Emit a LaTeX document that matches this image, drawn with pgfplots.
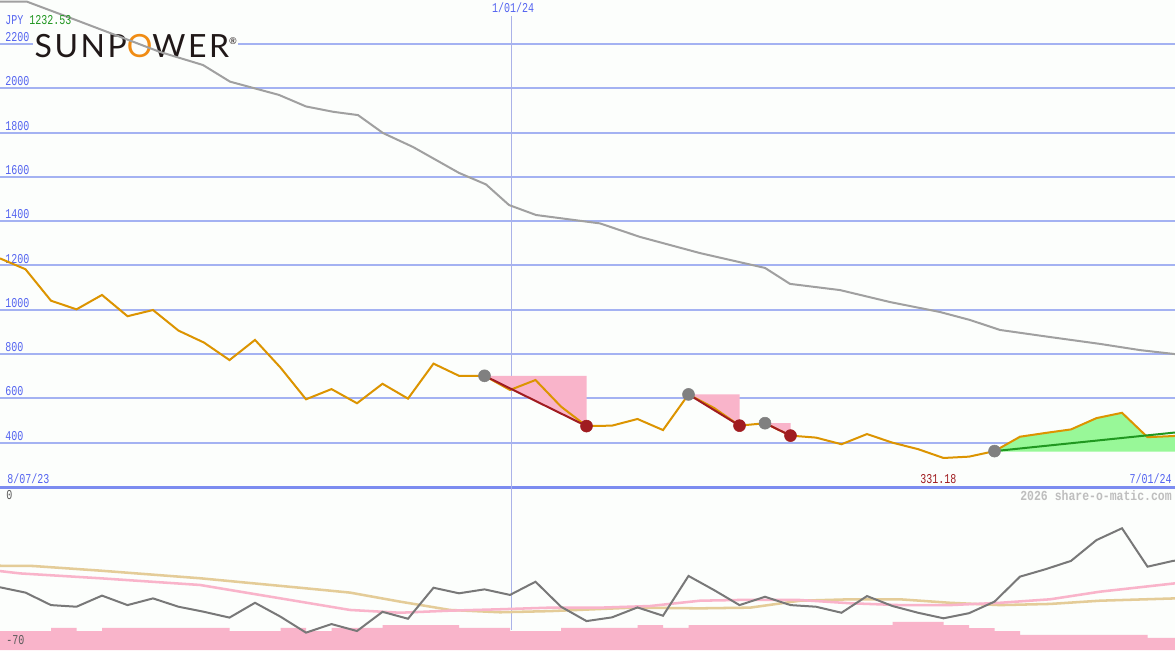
\documentclass[border=0pt]{standalone}
\usepackage{fontspec}
\setmainfont{Liberation Sans}
\setmonofont{Liberation Mono}
\newfontfamily\logofont[LetterSpace=8]{Lato}
\usepackage{graphicx}
\usepackage{pgfplots}
\pgfplotsset{compat=1.18}
\definecolor{bgc}{RGB}{252,254,252}
\definecolor{gridc}{RGB}{164,178,242}
\definecolor{borderc}{RGB}{124,140,240}
\definecolor{labc}{RGB}{84,100,240}
\definecolor{vlinec}{RGB}{170,178,232}
\definecolor{orangec}{RGB}{220,148,0}
\definecolor{graylc}{RGB}{160,160,160}
\definecolor{pinkc}{RGB}{249,180,202}
\definecolor{redc}{RGB}{160,28,32}
\definecolor{dotgray}{RGB}{128,128,128}
\definecolor{greenfill}{RGB}{152,248,152}
\definecolor{trendc}{RGB}{32,152,32}
\definecolor{greentxt}{RGB}{32,150,32}
\definecolor{tanc}{RGB}{228,204,152}
\definecolor{osc}{RGB}{120,120,120}
\definecolor{logoorange}{RGB}{240,140,20}
\newcommand{\lbl}[1]{\scalebox{1}[1.35]{#1}}
\tikzset{lab/.style={font=\fontsize{7.5}{8}\selectfont\ttfamily, inner sep=0pt}}
\begin{document}
\begin{tikzpicture}[x=1pt,y=1pt]
\fill[bgc] (0,0) rectangle (881.25,487.5);
\useasboundingbox (0,0) rectangle (881.25,487.5);
% ---------------- upper panel ----------------
\begin{axis}[at={(0pt,121.5pt)}, anchor=south west, scale only axis,
  width=881.25pt, height=366pt, xmin=0, xmax=1175, ymin=195.5, ymax=2398.6,
  hide axis, clip=false]
\pgfplotsinvokeforeach{400,600,...,2200}{
  \addplot[gridc, line width=1.5pt, forget plot] coordinates {(0,#1) (1175,#1)};
}
\addplot[borderc, line width=2.25pt] coordinates {(0,200) (1175,200)};
\addplot[vlinec, line width=0.75pt] coordinates {(511,2326) (511,195.5)};
\pgfplotsinvokeforeach{400,600,...,2200}{
  \node[lab, text=labc, anchor=base west] at (axis cs:5,#1) [yshift=1.8pt] {\lbl{#1}};
}
% logo
\node[fill=bgc, inner sep=1pt, anchor=base west, text={rgb,255:red,32;green,24;blue,24}]
  at (axis cs:33,2137) {\logofont\fontsize{24}{24}\selectfont SUNP{\color{logoorange}O}WER\raisebox{10pt}{\fontsize{7}{7}\selectfont\textregistered}};
% long grey average
\addplot[graylc, line width=1.5pt] coordinates {
(0,2391) (27,2391) (76,2308) (160,2164) (203,2105) (230,2030) (279,1970) (306,1918)
(333,1894) (358,1879) (383,1798) (413,1735) (459,1618) (486,1566) (509,1473)
(536,1428) (600,1390) (640,1329) (700,1256) (765,1189) (790,1117) (840,1089)
(890,1035) (940,990) (970,954) (1000,909) (1050,877) (1100,846) (1140,818) (1175,800)};
% pink triangles
\addplot[fill=pinkc, draw=none] coordinates {(484.5,702) (586.5,702) (586.5,475) (484.5,702)};
\addplot[fill=pinkc, draw=none] coordinates {(688.5,618) (739.5,618) (739.5,477) (688.5,618)};
\addplot[fill=pinkc, draw=none] coordinates {(765,488) (790.5,488) (790.5,432) (765,488)};
% green area
\addplot[fill=greenfill, draw=none] coordinates {(994.5,360) (994.5,362) (1020,427) (1045.5,444)
 (1071,460) (1096.5,511) (1122,535) (1147.5,425) (1173,430) (1175,431) (1175,360) (994.5,360)};
% price line
\addplot[orangec, line width=1.5pt] coordinates {
(0,1232) (25.5,1183) (51,1041) (76.5,1002) (102,1067) (127.5,971) (153,999) (178.5,906)
(204,852) (229.5,773) (255,864) (280.5,739) (306,596) (331.5,642) (357,578) (382.5,666)
(408,599) (433.5,757) (459,702) (484.5,702) (510,638) (535.5,683) (561,563) (586.5,475)
(612,477) (637.5,507) (663,457) (688.5,618) (714,557) (739.5,477) (765,488) (790.5,432)
(816,423) (841.5,393) (867,439) (892.5,400) (918,371) (943.5,331) (969,337) (994.5,362)
(1020,427) (1045.5,444) (1071,460) (1096.5,511) (1122,535) (1147.5,425) (1173,430) (1175,431)};
% trend lines
\addplot[redc, line width=1.5pt] coordinates {(484.5,702) (586.5,475)};
\addplot[redc, line width=1.5pt] coordinates {(688.5,618) (739.5,477)};
\addplot[redc, line width=1.5pt] coordinates {(765,488) (790.5,432)};
\addplot[trendc, line width=1.5pt] coordinates {(994.5,362) (1175,446)};
% dots
\addplot[only marks, mark=*, mark size=4.5pt, dotgray, mark options={draw=dotgray, fill=dotgray}]
  coordinates {(484.5,702) (688.5,618) (765,488) (994.5,362)};
\addplot[only marks, mark=*, mark size=4.5pt, redc, mark options={draw=redc, fill=redc}]
  coordinates {(586.5,475) (739.5,477) (790.5,432)};
% labels
\node[lab, anchor=base west] at (axis cs:5,2290) {\lbl{\textcolor{labc}{JPY} \textcolor{greentxt}{1232.53}}};
\node[lab, text=labc, anchor=base] at (axis cs:513,2340) {\lbl{1/01/24}};
\node[lab, text=labc, anchor=base west] at (axis cs:7,218) {\lbl{8/07/23}};
\node[lab, text=labc, anchor=base east] at (axis cs:1172,218) {\lbl{7/01/24}};
\node[lab, text=redc, anchor=base west] at (axis cs:920,218) {\lbl{331.18}};
\end{axis}
% ---------------- lower panel ----------------
\begin{axis}[at={(0pt,0pt)}, anchor=south west, scale only axis,
  width=881.25pt, height=121.5pt, xmin=0, xmax=1175, ymin=-70, ymax=0,
  hide axis, clip=false]
\addplot[fill=pinkc, draw=none, const plot] coordinates {
(0,-70) (0,-61.8) (51,-60.4) (76.5,-61.8) (102,-60.4) (229.5,-61.8) (280.5,-60.4)
(306,-61.8) (331.5,-60.4) (382.5,-59.2) (459,-60.4) (510,-61.8) (561,-60.4)
(637.5,-59.2) (663,-60.4) (688.5,-59.2) (892.5,-57.9) (943.5,-59.2) (969,-60.5)
(994.5,-61.8) (1020,-63.5) (1147.5,-64.8) (1175,-64.8) (1175,-70)} -- cycle;
\addplot[vlinec, line width=0.75pt] coordinates {(511,0) (511,-61.5)};
\addplot[tanc, line width=1.9pt] coordinates {
(0,-33.6) (33,-33.7) (100,-35.7) (200,-39.0) (300,-43.1) (350,-45.2) (400,-49.1)
(450,-52.7) (500,-53.7) (550,-53.2) (633,-51.7) (700,-52.0) (750,-51.7) (800,-48.7)
(850,-48.1) (900,-48.1) (950,-49.6) (1000,-50.6) (1050,-50.1) (1100,-48.7) (1175,-47.7)};
\addplot[pinkc, line width=1.9pt] coordinates {
(0,-35.9) (20,-36.9) (100,-39.0) (200,-41.9) (300,-49.1) (350,-52.7) (400,-53.9)
(450,-53.0) (500,-52.4) (550,-51.7) (600,-51.7) (650,-51.0) (700,-48.7) (750,-48.3)
(800,-48.4) (850,-49.8) (900,-50.6) (950,-50.6) (1000,-49.6) (1050,-48.1) (1100,-44.8) (1175,-41.2)};
\addplot[osc, line width=1.5pt] coordinates {
(0,-42.9) (25.5,-45.2) (51,-50.6) (76.5,-51.3) (102,-46.5) (127.5,-50.6) (153,-47.7)
(178.5,-51.3) (204,-53.5) (229.5,-56.0) (255,-49.6) (280.5,-55.6) (306,-62.5)
(331.5,-58.8) (357,-61.8) (382.5,-53.5) (408,-56.5) (433.5,-43.1) (459,-45.5)
(484.5,-43.8) (510,-46.2) (535.5,-40.5) (561,-51.3) (586.5,-57.5) (612,-55.9)
(637.5,-51.6) (663,-55.2) (688.5,-38.0) (714,-44.1) (739.5,-50.6) (765,-47.0)
(790.5,-50.6) (816,-51.3) (841.5,-53.9) (867,-46.7) (892.5,-51.0) (918,-53.9)
(943.5,-56.3) (969,-54.1) (994.5,-49.1) (1020,-38.3) (1045.5,-35.1) (1071,-31.5)
(1096.5,-22.5) (1122,-17.4) (1147.5,-34.0) (1173,-31.5) (1175,-31.4)};
\node[lab, text={rgb,255:red,90;green,90;blue,90}, anchor=base west] at (axis cs:6,-4.8) {\lbl{0}};
\node[lab, text={rgb,255:red,90;green,90;blue,90}, anchor=base west] at (axis cs:6,-67.8) {\lbl{-70}};
\node[font=\fontsize{8.6}{9}\selectfont\ttfamily\bfseries, inner sep=0pt,
  text={rgb,255:red,190;green,190;blue,190}, anchor=base east] at (axis cs:1172,-5.3) {\scalebox{1}[1.2]{2026 share-o-matic.com}};
\end{axis}
\end{tikzpicture}
\end{document}
